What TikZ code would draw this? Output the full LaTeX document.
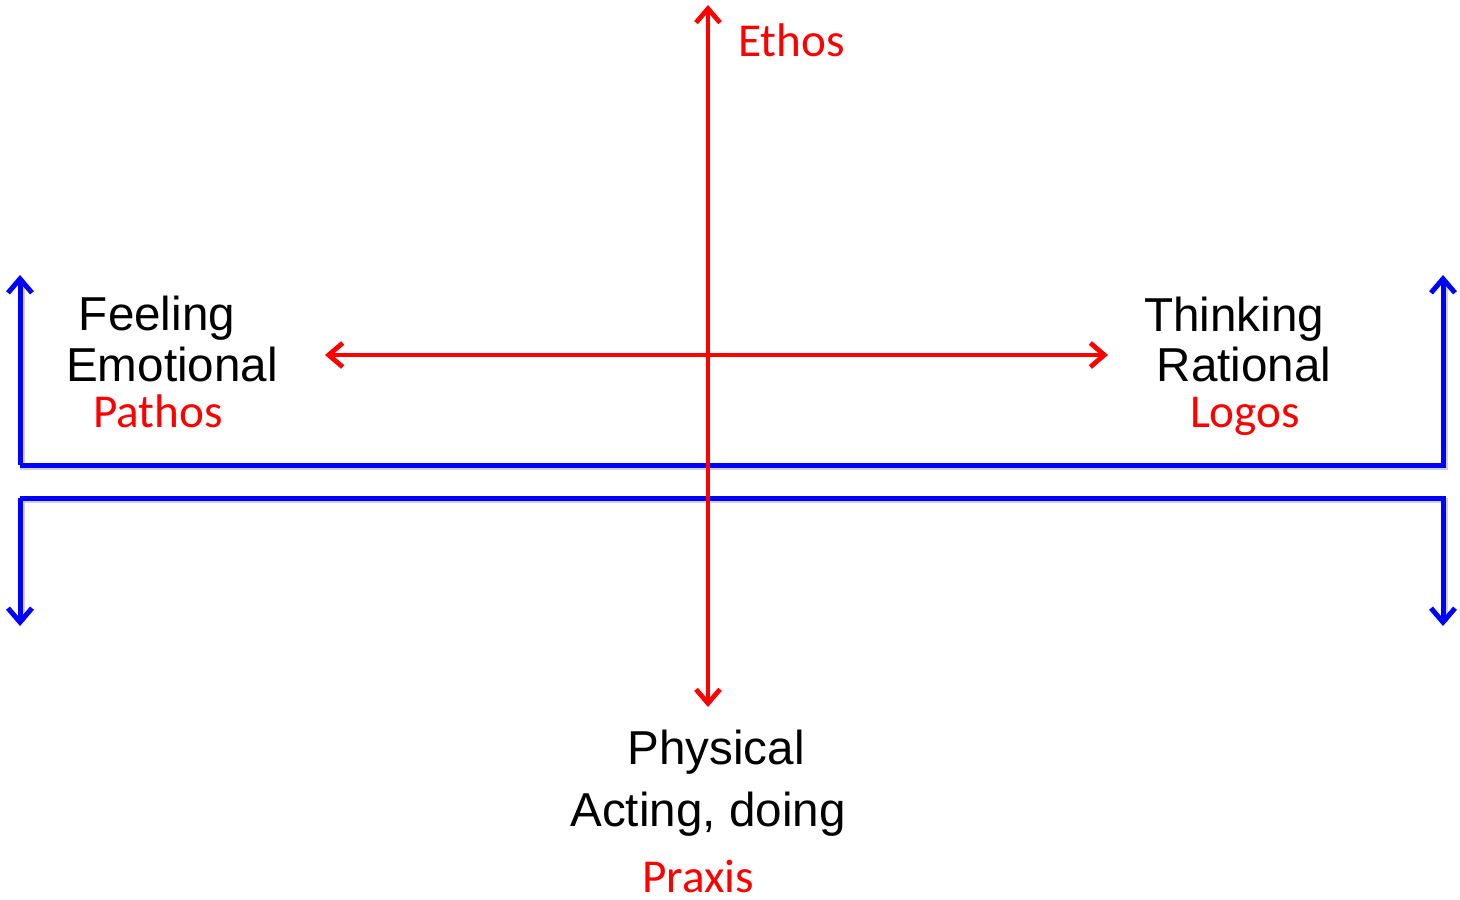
\documentclass[tikz,border=0pt]{standalone}
\usepackage{fontspec}
\setmainfont{Liberation Sans}
\newfontfamily\calibri{Carlito}
\usepackage{xcolor}
\usetikzlibrary{arrows.meta}
\definecolor{axisred}{HTML}{FF0000}
\definecolor{axisblue}{HTML}{0000FF}
\definecolor{shade}{HTML}{D0D0D0}
\tikzset{
  redaxis/.style={draw=axisred, line width=2.4pt, {Straight Barb[length=7pt,width=12pt,line width=2.4pt]}-{Straight Barb[length=7pt,width=12pt,line width=2.4pt]}},
  bluebar/.style={draw=axisblue, line width=2.5pt, line join=miter, -{Straight Barb[length=7pt,width=12pt,line width=2.5pt]}},
  blueshade/.style={draw=shade, line width=2.5pt, line join=miter},
  word/.style={text=black, font=\fontsize{23.8}{28}\selectfont, inner sep=0pt, anchor=base},
  greek/.style={text=axisred, font=\calibri\fontsize{23.6}{26}\selectfont, inner sep=0pt, anchor=base}
}
\begin{document}
\begin{tikzpicture}[x=0.5pt,y=-0.5pt]
  \useasboundingbox (0,0) rectangle (1460,899);
  \coordinate (top) at (708,5);
  \coordinate (bottom) at (708,707);
  \coordinate (left) at (325,355);
  \coordinate (right) at (1108,355);

  % blue brackets, shadow first
  \draw[blueshade] (22,280) -- (22,467) -- (1445,467) -- (1445,280);
  \draw[blueshade] (22,622) -- (22,500) -- (1445,500) -- (1445,622);
  \draw[bluebar] (20,465) -- (20,275);
  \draw[bluebar] (20,465) -- (1443,465) -- (1443,275);
  \draw[bluebar] (20,498) -- (20,626);
  \draw[bluebar] (20,498) -- (1443,498) -- (1443,626);

  % red axes
  \draw[redaxis] (top) -- (bottom);
  \draw[redaxis] (left) -- (right);

  \node[greek, anchor=base west] (ethos) at (738,57) {Ethos};

  \node[word] (feeling) at (157,330) {Feeling};
  \node[word] (emotional) at (172,381) {Emotional};
  \node[greek] (pathos) at (158,427) {Pathos};

  \node[word] (thinking) at (1234,331) {Thinking};
  \node[word] (rational) at (1244,381) {Rational};
  \node[greek] (logos) at (1245,427) {Logos};

  \node[word] (physical) at (716,764) {Physical};
  \node[word] (acting) at (708,826) {Acting, doing};
  \node[greek] (praxis) at (698,892) {Praxis};
\end{tikzpicture}
\end{document}
